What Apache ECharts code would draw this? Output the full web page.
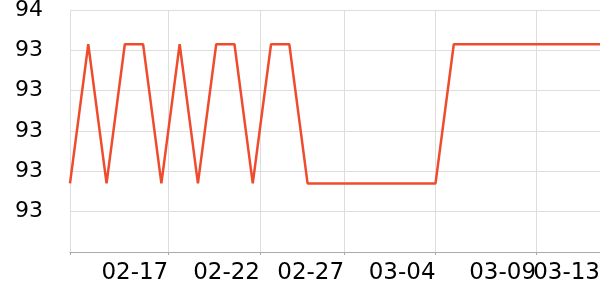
<!DOCTYPE html>
<html>
<head>
<meta charset="utf-8">
<script src="https://cdn.jsdelivr.net/npm/echarts@6/dist/echarts.min.js"></script>
<style>html,body{margin:0;padding:0;background:#fff}#c{width:600px;height:300px}</style>
</head>
<body>
<div id="c"></div>
<script>
// Data
var dates = ['2023-02-12','2023-02-13','2023-02-14','2023-02-15','2023-02-16','2023-02-17','2023-02-18','2023-02-19','2023-02-20','2023-02-21',
             '2023-02-22','2023-02-23','2023-02-24','2023-02-25','2023-02-26','2023-02-27','2023-02-28','2023-03-01','2023-03-02','2023-03-03',
             '2023-03-04','2023-03-05','2023-03-06','2023-03-07','2023-03-08','2023-03-09','2023-03-10','2023-03-11','2023-03-12','2023-03-13'];
var values = [93.14,93.83,93.14,93.83,93.83,93.14,93.83,93.14,93.83,93.83,
              93.14,93.83,93.83,93.14,93.14,93.14,93.14,93.14,93.14,93.14,
              93.14,93.83,93.83,93.83,93.83,93.83,93.83,93.83,93.83,93.83];
var xTickTimes = ['2023-02-17 09:00','2023-02-22 09:30','2023-02-27 00:00','2023-03-04 00:00','2023-03-09 12:00','2023-03-13 00:00'];
var yMin = 92.8, yMax = 94, yInterval = 0.2;

function ts(s){ return Date.UTC(+s.slice(0,4), +s.slice(5,7)-1, +s.slice(8,10), s.length>10?+s.slice(11,13):0, s.length>10?+s.slice(14,16):0); }
function fmt(v){ var d=new Date(v); var m=d.getUTCMonth()+1, dd=d.getUTCDate(); return (m<10?'0':'')+m+'-'+(dd<10?'0':'')+dd; }

var chart = echarts.init(document.getElementById('c'), null, {renderer:'canvas'});
var tickVals = xTickTimes.map(ts);
var xMin = ts(dates[0]), xMax = ts(dates[dates.length-1]);
var font = 'DejaVu Sans';
var labelStyle = {formatter:fmt, hideOverlap:false, showMaxLabel:true, showMinLabel:true,
                  color:'#000', fontFamily:font, fontSize:23, align:'right', margin:10};
chart.setOption({
  animation:false,
  grid:{left:70, right:0, top:10, bottom:48, outerBoundsMode:'none', containLabel:false},
  xAxis:[{
    type:'value', min:xMin, max:xMax, position:'bottom',
    axisLine:{show:true, lineStyle:{color:'#aaaaaa', width:1}},
    axisTick:{show:true, length:3, lineStyle:{color:'#aaaaaa'}, customValues:[xMin].concat(tickVals)},
    axisLabel:Object.assign({customValues:tickVals.slice(0, tickVals.length-1)}, labelStyle),
    splitLine:{show:true, lineStyle:{color:'#dddddd', width:1}}
  },{
    type:'value', min:xMin, max:xMax, position:'bottom', offset:0,
    axisLine:{show:false}, axisTick:{show:false}, splitLine:{show:false},
    axisLabel:Object.assign({customValues:tickVals.slice(tickVals.length-1)}, labelStyle)
  }],
  yAxis:{
    type:'value', min:yMin, max:yMax, interval:yInterval,
    axisLine:{show:false}, axisTick:{show:false},
    axisLabel:{showMinLabel:false, color:'#000', fontFamily:font, fontSize:22, margin:27,
               formatter:function(v){return String(Math.floor(v+1e-6));}},
    splitLine:{show:true, lineStyle:{color:'#dddddd', width:1}}
  },
  series:[{
    type:'line', symbol:'none', xAxisIndex:0,
    data: dates.map(function(d,i){ return [ts(d), values[i]]; }),
    lineStyle:{color:'#ef4b2e', width:2.5}
  }]
});
</script>
</body>
</html>
